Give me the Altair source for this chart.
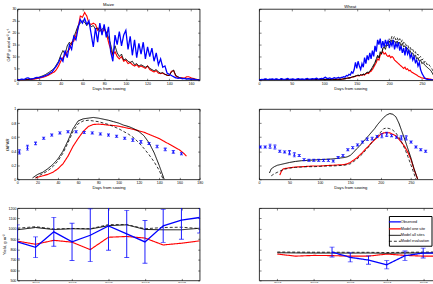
import altair as alt
import pandas as pd

FONT = "Liberation Sans"
BLUE = "#0000ff"

SERIES = ["Observed", "Model one site", "Model all sites", "Model evaluation"]
SERIES_COLOURS = [BLUE, "#ff0000", "#000000", "#000000"]
SERIES_DASHES = [[1, 0], [1, 0], [1, 0], [3, 2]]
SERIES_WIDTHS = [1.3, 0.8, 0.8, 0.8]

# ---------------- Maize GPP, every second day after sowing ----------------
maize_gpp_days = list(range(0, 170, 2))
maize_gpp_obs = [
    0.3, 0.2, 0.5, 0.3, 0.8, 1.0, 0.5, 0.6, 0.9, 1.2,
    1.0, 1.4, 1.6, 2.0, 2.3, 3.0, 3.5, 4.8, 6.0, 7.5,
    9.5, 8.0, 12.5, 9.5, 15.0, 13.0, 18.5, 17.0, 22.0, 25.5,
    24.0, 26.0, 23.5, 25.0, 19.5, 14.0, 22.0, 16.0, 24.0, 19.0,
    23.5, 18.0, 22.5, 12.0, 8.0, 19.0, 15.0, 20.5, 14.5, 19.0,
    21.0, 13.0, 18.5, 10.5, 17.0, 9.5, 15.5, 11.0, 16.0, 9.0,
    14.0, 10.0, 13.5, 8.0, 11.5, 6.5, 9.0, 5.5, 6.0, 3.0,
    2.5, 2.0, 1.5, 1.0, 0.8, 1.0, 0.6, 0.8, 0.5, 0.7,
    0.4, 0.5, 0.3, 0.2, 0.2,
]
maize_gpp_all = [
    0.1, 0.1, 0.2, 0.2, 0.3, 0.4, 0.5, 0.6, 0.8, 1.0,
    1.3, 1.6, 2.0, 2.4, 3.0, 3.6, 4.3, 5.0, 6.5, 8.0,
    10.5, 12.5, 11.0, 14.5, 16.0, 15.0, 18.0, 20.5, 23.0, 24.0,
    25.0, 24.5, 23.0, 24.0, 22.5, 23.0, 21.5, 22.0, 20.5, 21.5,
    22.0, 20.0, 18.0, 15.0, 11.0, 14.5, 11.5, 10.0, 11.0, 8.5,
    9.0, 8.0, 7.5, 8.0, 6.5, 7.0, 6.0, 6.5, 6.0, 5.5,
    6.0, 5.0, 4.5, 4.0, 4.5, 3.5, 3.0, 3.2, 2.5, 2.2,
    2.0, 3.5, 4.3, 2.0, 1.5, 1.0, 0.8, 0.8, 0.6, 0.6,
    0.5, 0.5, 0.4, 0.3, 0.3,
]
maize_gpp_one = [
    0.1, 0.1, 0.1, 0.2, 0.2, 0.3, 0.3, 0.4, 0.5, 0.7,
    0.9, 1.1, 1.3, 1.6, 2.0, 2.5, 3.0, 3.5, 4.5, 6.0,
    8.0, 9.5, 10.5, 12.0, 13.0, 16.0, 16.5, 19.0, 22.0, 27.0,
    26.5, 28.5, 27.0, 24.0, 23.5, 24.0, 23.5, 21.0, 22.5, 20.0,
    21.5, 20.0, 16.0, 13.0, 10.5, 12.0, 10.0, 9.0, 10.0, 8.0,
    8.5, 7.0, 7.5, 6.5, 6.0, 6.5, 5.5, 6.0, 5.5, 5.0,
    6.0, 4.5, 4.0, 3.5, 4.0, 3.0, 2.8, 3.0, 2.5, 2.0,
    2.0, 3.8, 4.0, 1.8, 1.2, 1.0, 1.0, 0.8, 1.5, 1.5,
    1.0, 0.8, 0.5, 0.3, 0.3,
]

# ---------------- Wheat GPP, every second day after sowing ----------------
wheat_gpp_days = list(range(0, 272, 2))
wheat_gpp_obs = [
    0.3, 0.2, 0.4, 0.3, 0.5, 0.6, 0.3, 0.2, 0.5, 0.4,
    0.6, 0.4, 0.3, 0.6, 0.5, 0.3, 0.4, 0.7, 0.5, 0.3,
    0.4, 0.6, 0.8, 0.4, 0.3, 0.5, 0.6, 0.4, 0.3, 0.5,
    0.7, 0.5, 0.4, 0.6, 0.5, 0.3, 0.6, 0.8, 0.5, 0.4,
    0.6, 0.7, 0.5, 0.6, 0.9, 0.6, 0.5, 0.7, 0.8, 0.6,
    1.0, 1.3, 0.8, 0.7, 1.0, 0.8, 0.6, 0.9, 1.1, 0.8,
    1.0, 1.2, 0.9, 1.2, 1.2, 1.5, 1.3, 2.0, 1.8, 2.5,
    2.2, 3.5, 3.0, 4.5, 7.5, 5.0, 8.0, 6.0, 4.5, 7.0,
    5.5, 9.5, 7.0, 10.5, 8.5, 11.5, 9.0, 12.5, 10.0, 14.5,
    12.0, 17.0, 15.0, 17.5, 13.5, 16.5, 14.0, 17.0, 15.0, 16.5,
    13.5, 16.0, 14.5, 17.0, 13.0, 15.5, 14.0, 16.0, 12.5, 14.5,
    11.5, 13.5, 10.5, 14.0, 11.0, 12.5, 9.5, 11.0, 8.5, 10.0,
    7.5, 8.5, 6.0, 7.5, 4.5, 3.0, 2.0, 1.0, 0.6, 0.4,
    0.3, 0.3, 0.2, 0.2, 0.2, 0.2,
]
wheat_gpp_all = [
    0.2, 0.2, 0.3, 0.3, 0.3, 0.3, 0.4, 0.3, 0.3, 0.3,
    0.3, 0.3, 0.3, 0.4, 0.3, 0.3, 0.3, 0.3, 0.4, 0.3,
    0.3, 0.3, 0.3, 0.3, 0.4, 0.3, 0.3, 0.3, 0.3, 0.3,
    0.4, 0.3, 0.3, 0.3, 0.3, 0.3, 0.4, 0.3, 0.3, 0.3,
    0.3, 0.3, 0.4, 0.3, 0.3, 0.3, 0.3, 0.4, 0.3, 0.3,
    0.3, 0.4, 0.3, 0.3, 0.4, 0.3, 0.4, 0.4, 0.4, 0.4,
    0.4, 0.4, 0.5, 0.4, 0.5, 0.6, 0.7, 0.8, 0.9, 1.0,
    1.1, 1.3, 1.5, 1.6, 1.8, 2.0, 2.2, 2.0, 2.4, 2.2,
    2.6, 2.5, 3.0, 3.4, 3.2, 4.0, 4.5, 5.5, 6.5, 7.5,
    9.0, 10.5, 9.5, 12.0, 11.0, 13.5, 14.0, 13.0, 15.0, 14.5,
    16.5, 15.5, 17.0, 16.0, 16.5, 15.5, 16.5, 15.0, 16.0, 14.5,
    15.5, 14.0, 14.5, 13.0, 13.5, 12.0, 12.5, 11.0, 11.5, 10.0,
    10.5, 9.0, 9.5, 8.0, 8.5, 7.0, 7.5, 6.5, 6.0, 5.5,
    5.0, 4.5, 4.0, 3.0, 2.0, 1.0,
]
wheat_gpp_one = [
    0.2, 0.2, 0.2, 0.3, 0.3, 0.3, 0.3, 0.3, 0.3, 0.3,
    0.3, 0.3, 0.3, 0.3, 0.3, 0.3, 0.3, 0.3, 0.3, 0.3,
    0.3, 0.3, 0.3, 0.3, 0.3, 0.3, 0.3, 0.3, 0.3, 0.3,
    0.3, 0.3, 0.3, 0.3, 0.3, 0.3, 0.3, 0.3, 0.3, 0.3,
    0.3, 0.3, 0.3, 0.3, 0.3, 0.3, 0.3, 0.3, 0.3, 0.3,
    0.3, 0.3, 0.3, 0.3, 0.3, 0.3, 0.3, 0.4, 0.4, 0.4,
    0.4, 0.4, 0.4, 0.4, 0.5, 0.6, 0.7, 0.8, 0.9, 1.0,
    1.1, 1.2, 1.4, 1.5, 1.7, 1.9, 2.0, 1.9, 2.2, 2.1,
    2.4, 2.2, 2.7, 3.0, 2.8, 3.5, 3.8, 4.5, 5.5, 6.5,
    7.5, 9.0, 8.5, 10.5, 11.5, 12.0, 11.0, 11.5, 10.5, 10.0,
    10.5, 9.5, 10.0, 9.5, 8.5, 8.0, 7.5, 7.0, 6.5, 6.0,
    5.5, 5.0, 5.5, 4.5, 4.8, 4.0, 4.2, 3.5, 3.2, 2.8,
    2.5, 2.2, 1.8, 1.5, 1.2, 1.0, 0.9, 0.8, 0.8, 0.7,
    0.6, 0.5, 0.4, 0.3, 0.3, 0.2,
]
wheat_gpp_eval = [
    0.2, 0.2, 0.3, 0.3, 0.3, 0.3, 0.3, 0.3, 0.3, 0.3,
    0.3, 0.3, 0.3, 0.3, 0.3, 0.3, 0.3, 0.3, 0.3, 0.3,
    0.3, 0.3, 0.3, 0.3, 0.3, 0.3, 0.3, 0.3, 0.3, 0.3,
    0.3, 0.3, 0.3, 0.3, 0.3, 0.3, 0.3, 0.3, 0.3, 0.3,
    0.3, 0.3, 0.3, 0.3, 0.3, 0.3, 0.3, 0.3, 0.3, 0.3,
    0.3, 0.3, 0.3, 0.3, 0.3, 0.3, 0.3, 0.3, 0.3, 0.3,
    0.4, 0.4, 0.4, 0.4, 0.5, 0.6, 0.6, 0.7, 0.8, 0.9,
    1.0, 1.2, 1.4, 1.5, 1.7, 1.9, 2.0, 1.9, 2.3, 2.1,
    2.5, 2.4, 2.9, 3.2, 3.1, 3.8, 4.3, 5.2, 6.2, 7.2,
    8.5, 10.0, 9.0, 11.5, 11.0, 13.0, 13.5, 14.5, 15.5, 16.0,
    17.5, 16.5, 18.5, 17.5, 18.5, 17.0, 18.0, 16.5, 17.5, 16.0,
    17.0, 15.5, 16.0, 14.5, 15.0, 13.5, 14.0, 12.5, 13.0, 11.5,
    12.0, 10.5, 11.0, 9.5, 10.0, 8.5, 9.0, 7.5, 8.0, 6.5,
    7.0, 6.0, 5.5, 4.5, 3.5, 2.5,
]

# ---------------- Maize fAPAR ----------------
maize_fapar_obs_days = list(range(2, 170, 8))
maize_fapar_obs = [0.39, 0.45, 0.51, 0.585, 0.63, 0.66, 0.675, 0.675, 0.665, 0.66, 0.645,
                   0.63, 0.613, 0.585, 0.557, 0.533, 0.51, 0.467, 0.425, 0.39, 0.363]
maize_fapar_obs_err = [0.03, 0.035, 0.02, 0.015, 0.015, 0.015, 0.015, 0.015, 0.015, 0.015, 0.015,
                       0.015, 0.015, 0.015, 0.02, 0.02, 0.015, 0.02, 0.02, 0.02, 0.015]
maize_fapar_all_days = [15, 20, 25, 30, 35, 40, 45, 50, 55, 60, 65, 70, 75, 80, 85, 90, 95, 100,
                        105, 110, 115, 120, 125, 130, 135, 140, 143, 145]
maize_fapar_all = [0.02, 0.07, 0.10, 0.15, 0.21, 0.29, 0.40, 0.55, 0.72, 0.83, 0.86, 0.87, 0.88,
                   0.87, 0.855, 0.84, 0.82, 0.80, 0.77, 0.75, 0.72, 0.68, 0.62, 0.52, 0.38,
                   0.20, 0.08, 0.0]
maize_fapar_eval_days = [18, 20, 25, 30, 35, 40, 45, 50, 55, 60, 65, 70, 75, 80, 85, 90, 95, 100,
                         105, 110, 115, 120, 125, 130, 135, 140, 144]
maize_fapar_eval = [0.02, 0.04, 0.08, 0.12, 0.18, 0.26, 0.37, 0.52, 0.68, 0.79, 0.83, 0.84, 0.83,
                    0.82, 0.80, 0.78, 0.75, 0.72, 0.68, 0.64, 0.59, 0.52, 0.44, 0.35, 0.25,
                    0.13, 0.0]
maize_fapar_one_days = [18, 20, 25, 30, 35, 40, 45, 50, 55, 60, 65, 70, 75, 80, 85, 90, 95, 100,
                        105, 110, 115, 120, 125, 130, 135, 140, 145, 150, 155, 160, 165, 167]
maize_fapar_one = [0.02, 0.03, 0.05, 0.07, 0.10, 0.15, 0.22, 0.33, 0.47, 0.58, 0.68, 0.75, 0.78,
                   0.785, 0.78, 0.77, 0.765, 0.755, 0.74, 0.725, 0.71, 0.69, 0.67, 0.64, 0.61,
                   0.58, 0.54, 0.50, 0.46, 0.42, 0.36, 0.33]

# ---------------- Wheat fAPAR ----------------
wheat_fapar_obs_days = list(range(2, 276, 8))
wheat_fapar_obs = [0.46, 0.46, 0.47, 0.46, 0.40, 0.39, 0.38, 0.35, 0.34, 0.28,
                   0.27, 0.27, 0.27, 0.27, 0.27, 0.26, 0.31, 0.34, 0.42, 0.45,
                   0.49, 0.53, 0.57, 0.58, 0.61, 0.62, 0.64, 0.62, 0.60, 0.59,
                   0.59, 0.53, 0.46, 0.42, 0.40]
wheat_fapar_obs_err = [0.015, 0.015, 0.03, 0.03, 0.015, 0.015, 0.03, 0.03, 0.015, 0.015,
                       0.015, 0.015, 0.015, 0.015, 0.015, 0.015, 0.015, 0.015, 0.015, 0.015,
                       0.015, 0.015, 0.02, 0.02, 0.015, 0.03, 0.03, 0.015, 0.015, 0.03,
                       0.03, 0.015, 0.015, 0.015, 0.015]
wheat_fapar_all_days = [17, 20, 25, 30, 40, 50, 60, 70, 80, 90, 100, 110, 120, 130, 140,
                        145, 150, 155, 160, 165, 170, 175, 180, 185, 190, 195, 200, 205, 210,
                        215, 220, 225, 230, 235, 240, 245, 250, 255, 261]
wheat_fapar_all = [0.09, 0.15, 0.18, 0.20, 0.22, 0.24, 0.255, 0.265, 0.27, 0.275, 0.28, 0.285,
                   0.29, 0.30, 0.31, 0.32, 0.34, 0.38, 0.43, 0.47, 0.52, 0.57, 0.62, 0.67, 0.72,
                   0.78, 0.83, 0.88, 0.915, 0.935, 0.925, 0.89, 0.80, 0.68, 0.56, 0.43, 0.30,
                   0.15, 0.0]
wheat_fapar_one_days = [34, 37, 40, 50, 60, 70, 80, 90, 100, 110, 120, 130, 140,
                        145, 150, 155, 160, 165, 170, 175, 180, 185, 190, 195, 200, 205, 210,
                        215, 220, 225, 230, 235, 240, 245, 250, 255, 261]
wheat_fapar_one = [0.06, 0.12, 0.15, 0.165, 0.175, 0.18, 0.185, 0.19, 0.19, 0.195, 0.20, 0.205,
                   0.21, 0.22, 0.24, 0.27, 0.30, 0.34, 0.38, 0.43, 0.47, 0.52, 0.56, 0.60, 0.64,
                   0.66, 0.665, 0.66, 0.64, 0.62, 0.57, 0.52, 0.46, 0.38, 0.28, 0.14, 0.0]
wheat_fapar_eval_days = [20, 25, 30, 40, 50, 60, 70, 80, 90, 100, 110, 120, 130, 140,
                         145, 150, 155, 160, 165, 170, 175, 180, 185, 190, 195, 200, 205, 210,
                         215, 220, 225, 230, 235, 240, 245, 250, 255, 258]
wheat_fapar_eval = [0.05, 0.08, 0.10, 0.14, 0.16, 0.17, 0.175, 0.18, 0.18, 0.185, 0.19, 0.19,
                    0.195, 0.20, 0.21, 0.22, 0.25, 0.28, 0.32, 0.36, 0.41, 0.46, 0.52, 0.57,
                    0.62, 0.67, 0.72, 0.73, 0.72, 0.70, 0.66, 0.60, 0.52, 0.43, 0.32, 0.20,
                    0.08, 0.0]

# ---------------- Yields (g m-2) ----------------
maize_years = list(range(2000, 2011))
maize_yield_obs = [873, 821, 970, 873, 937, 1028, 950, 873, 1028, 1083, 1109]
maize_yield_err = [165, 100, 140, 180, 255, 236, 228, 207, 160, 184, 150]
maize_yield_one = [880, 850, 888, 870, 798, 918, 925, 910, 843, 860, 883]
maize_yield_all = [990, 1012, 992, 1000, 997, 1030, 1038, 993, 990, 990, 1005]
maize_yield_eval = [1005, 1020, 998, 1003, 1000, 1040, 1040, 1000, 1012, 1015, 1002]

wheat_model_years = list(range(2001, 2011))
wheat_yield_one = [755, 735, 742, 740, 735, 735, 755, 742, 735, 735]
wheat_yield_all = [768, 766, 765, 765, 764, 765, 762, 765, 766, 768]
wheat_yield_eval = [775, 774, 773, 773, 772, 772, 770, 772, 774, 775]
wheat_obs_years = list(range(2004, 2011))
wheat_yield_obs = [774, 723, 697, 652, 739, 765, 765]
wheat_yield_err = [48, 44, 40, 40, 45, 48, 45]

year_ticks = [2001, 2003, 2005, 2007, 2009]


def long_table(*series):
    frames = [pd.DataFrame({"x": d, "y": v, "series": name}) for name, d, v in series]
    return pd.concat(frames, ignore_index=True)


def obs_table(days, values, errors):
    df = pd.DataFrame({"x": days, "y": values, "e": errors})
    df["lo"] = df["y"] - df["e"]
    df["hi"] = df["y"] + df["e"]
    return df


def axis(ticks, title, span, fmt, labels=True):
    # MATLAB-style inward ticks on both sides: grid lines dashed so that only
    # a short stub is drawn at each end of the plot area
    return alt.Axis(
        values=ticks, format=fmt, title=title, labels=labels,
        ticks=False, domain=False,
        grid=True, gridColor="black", gridOpacity=1, gridWidth=0.5,
        gridDash=[2, span - 4, 2],
        labelFont=FONT, labelFontSize=3.6, labelColor="black", labelPadding=1.5,
        labelFlush=False, labelOverlap=False,
        titleFont=FONT, titleFontSize=4.2, titleFontWeight="normal",
        titleColor="black", titlePadding=1.5,
    )


def panel(lines, x_dom, x_ticks, x_title, y_dom, y_ticks, y_title, w, h,
          y_fmt="d", y_labels=True, obs=None, obs_line=False, marker=False, cap=3,
          legend=None, title=None):
    xs = alt.Scale(domain=x_dom, nice=False, zero=False)
    ys = alt.Scale(domain=y_dom, nice=False, zero=False)
    x = alt.X("x:Q", scale=xs, axis=axis(x_ticks, x_title, h, "d"))

    def y(field):
        return alt.Y(field, type="quantitative", scale=ys,
                     axis=axis(y_ticks, y_title, w, y_fmt, y_labels))

    colour = alt.Color("series:N", scale=alt.Scale(domain=SERIES, range=SERIES_COLOURS),
                       legend=legend)
    dash = alt.StrokeDash("series:N", scale=alt.Scale(domain=SERIES, range=SERIES_DASHES),
                          legend=legend)
    width = alt.StrokeWidth("series:N", scale=alt.Scale(domain=SERIES, range=SERIES_WIDTHS),
                            legend=None)
    layers = [
        alt.Chart(lines).mark_line(clip=True).encode(
            x=x, y=y("y"), color=colour, strokeDash=dash, strokeWidth=width
        )
    ]
    if obs is not None:
        base = alt.Chart(obs)
        if obs_line:
            layers.append(base.mark_line(clip=True, color=BLUE, strokeWidth=1.3)
                          .encode(x=x, y=y("y")))
        layers.append(base.mark_rule(clip=True, color=BLUE, strokeWidth=0.9)
                      .encode(x=x, y=y("lo"), y2="hi:Q"))
        for end in ("lo", "hi"):
            layers.append(base.mark_tick(clip=True, color=BLUE, orient="horizontal",
                                         size=cap, thickness=0.9)
                          .encode(x=x, y=y(end)))
        if marker:
            layers.append(base.mark_point(clip=True, color=BLUE, filled=False,
                                          shape="M-1,-1L1,1M-1,1L1,-1",
                                          size=7, strokeWidth=0.8)
                          .encode(x=x, y=y("y")))
    props = dict(width=w, height=h)
    if title is not None:
        props["title"] = alt.TitleParams(title, font=FONT, fontSize=4.2,
                                         fontWeight="normal", color="black", offset=0)
    return alt.layer(*layers).properties(**props)


W = 184
DAYS = "Days from sowing"
FRACTION = ".1~f"

maize_gpp = panel(
    long_table(("Model one site", maize_gpp_days, maize_gpp_one),
               ("Model all sites", maize_gpp_days, maize_gpp_all),
               ("Observed", maize_gpp_days, maize_gpp_obs)),
    [0, 168], list(range(0, 161, 20)), DAYS,
    [0, 30], list(range(0, 31, 5)), "GPP μ mol m⁻² s⁻¹", W, 72, title="Maize")

wheat_gpp = panel(
    long_table(("Model one site", wheat_gpp_days, wheat_gpp_one),
               ("Model all sites", wheat_gpp_days, wheat_gpp_all),
               ("Model evaluation", wheat_gpp_days, wheat_gpp_eval),
               ("Observed", wheat_gpp_days, wheat_gpp_obs)),
    [0, 280], list(range(0, 251, 50)), DAYS,
    [0, 30], list(range(0, 31, 5)), None, W, 72, y_labels=False, title="Wheat")

maize_fapar = panel(
    long_table(("Model one site", maize_fapar_one_days, maize_fapar_one),
               ("Model all sites", maize_fapar_all_days, maize_fapar_all),
               ("Model evaluation", maize_fapar_eval_days, maize_fapar_eval)),
    [0, 180], list(range(0, 181, 20)), DAYS,
    [0, 1], [0, 0.2, 0.4, 0.6, 0.8, 1], "fAPAR", W, 71, y_fmt=FRACTION,
    obs=obs_table(maize_fapar_obs_days, maize_fapar_obs, maize_fapar_obs_err),
    marker=True, cap=3)

wheat_fapar = panel(
    long_table(("Model one site", wheat_fapar_one_days, wheat_fapar_one),
               ("Model all sites", wheat_fapar_all_days, wheat_fapar_all),
               ("Model evaluation", wheat_fapar_eval_days, wheat_fapar_eval)),
    [0, 300], list(range(0, 301, 50)), DAYS,
    [0, 1], [0, 0.2, 0.4, 0.6, 0.8, 1], None, W, 71, y_fmt=FRACTION, y_labels=False,
    obs=obs_table(wheat_fapar_obs_days, wheat_fapar_obs, wheat_fapar_obs_err),
    marker=True, cap=3)

maize_yield = panel(
    long_table(("Model one site", maize_years, maize_yield_one),
               ("Model all sites", maize_years, maize_yield_all),
               ("Model evaluation", maize_years, maize_yield_eval)),
    [2000, 2010], year_ticks, None,
    [500, 1200], list(range(500, 1201, 100)), "Yield, g m⁻²", W, 73,
    obs=obs_table(maize_years, maize_yield_obs, maize_yield_err), obs_line=True, cap=5)

legend = alt.Legend(
    title=None, orient="none", legendX=131, legendY=8, direction="vertical",
    symbolType="M-2,0L2,0", symbolSize=36, symbolStrokeWidth=0.9,
    labelFont=FONT, labelFontSize=3.8, labelColor="black", labelOffset=2,
    padding=2, rowPadding=0, strokeColor="black", fillColor="white",
)

wheat_yield = panel(
    long_table(("Model one site", wheat_model_years, wheat_yield_one),
               ("Model all sites", wheat_model_years, wheat_yield_all),
               ("Model evaluation", wheat_model_years, wheat_yield_eval),
               ("Observed", wheat_obs_years, wheat_yield_obs)),
    [2000, 2010], year_ticks, None,
    [500, 1200], list(range(500, 1201, 100)), None, W, 73, y_labels=False,
    obs=obs_table(wheat_obs_years, wheat_yield_obs, wheat_yield_err), cap=5,
    legend=legend)

# the figure is trimmed on the right and at the bottom: negative padding crops
# the right-hand panels and the last row of year labels
chart = (
    alt.concat(maize_gpp, wheat_gpp, maize_fapar, wheat_fapar, maize_yield, wheat_yield,
               columns=2, spacing={"row": 14, "column": 54})
    .resolve_scale(color="independent", strokeDash="independent", strokeWidth="independent")
    .properties(padding={"left": 1.5, "top": 0.7, "right": -12.5, "bottom": -4.7})
    .configure(background="white", font=FONT)
    .configure_view(stroke="black", strokeWidth=0.8)
)

chart.save("out.html", embed_options={"renderer": "svg", "actions": False})
